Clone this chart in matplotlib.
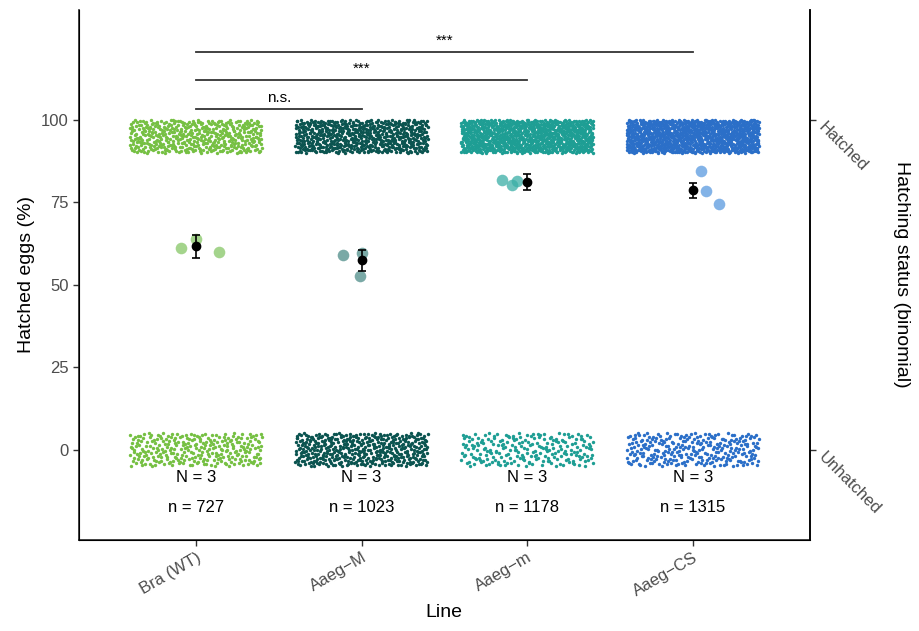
"""Egg hatching rate per line: individual eggs (binomial) plus replicate means."""

import matplotlib
matplotlib.use("Agg")
import matplotlib.pyplot as plt
import numpy as np

plt.rcParams["font.family"] = ["Liberation Sans", "DejaVu Sans"]

# --- data -------------------------------------------------------------------
LINES = ["Bra (WT)", "Aaeg\u2212M", "Aaeg\u2212m", "Aaeg\u2212CS"]
N_TOTAL = [727, 1023, 1178, 1315]
N_REPLICATES = [3, 3, 3, 3]
HATCHED_COUNT = [447, 588, 954, 1039]
UNHATCHED_COUNT = [280, 435, 224, 276]

# replicate hatching percentages and their x offset from the category
REP_PCT = [[61.2, 60.0, 63.8], [59.1, 52.7, 59.7], [81.8, 80.3, 81.5], [84.5, 78.5, 74.5]]
REP_DX = [[-0.09, 0.14, 0.0], [-0.11, -0.01, 0.0], [-0.15, -0.09, -0.06], [0.05, 0.08, 0.16]]
MEAN_PCT = [61.6, 57.5, 81.2, 78.8]
ERR_LO = [58.2, 54.3, 78.6, 76.4]
ERR_HI = [65.1, 60.6, 83.6, 81.0]

# significance brackets vs. WT: (target index, y, label)
SIG_TARGET = [1, 2, 3]
SIG_Y = [103.3, 112.1, 120.6]
SIG_LABEL = ["n.s.", "***", "***"]

COLORS = ["#76c043", "#0b5450", "#1e9e94", "#2b6fc8"]
REP_COLORS = ["#86c666", "#4e8c88", "#3aaea6", "#5a9ae0"]
GREY = "#4d4d4d"


def halton(i, base):
    """Deterministic low-discrepancy sequence used for the jitter layout."""
    f, r = 1.0, 0.0
    while i > 0:
        f /= base
        r += f * (i % base)
        i //= base
    return r


def jitter(count, start, x0, y_lo, y_hi, width=0.4):
    idx = np.arange(start, start + count)
    u = np.array([halton(int(k), 2) for k in idx])
    v = np.array([halton(int(k), 3) for k in idx])
    return x0 - width + 2 * width * u, y_lo + (y_hi - y_lo) * v


fig, ax = plt.subplots(figsize=(9.2, 6.31), dpi=100)
fig.subplots_adjust(left=0.086, right=0.88, top=0.984, bottom=0.145)

xs = np.arange(1, len(LINES) + 1)
for i, x in enumerate(xs):
    hx, hy = jitter(HATCHED_COUNT[i], 17 + 3000 * i, x, 90, 100)
    ux, uy = jitter(UNHATCHED_COUNT[i], 1500 + 3000 * i, x, -5, 5)
    ax.scatter(hx, hy, s=6, color=COLORS[i], linewidths=0, zorder=2)
    ax.scatter(ux, uy, s=6, color=COLORS[i], linewidths=0, zorder=2)

    ax.scatter(x + np.array(REP_DX[i]), REP_PCT[i], s=70, color=REP_COLORS[i],
               alpha=0.75, linewidths=0, zorder=3)
    ax.errorbar(x, MEAN_PCT[i],
                yerr=[[MEAN_PCT[i] - ERR_LO[i]], [ERR_HI[i] - MEAN_PCT[i]]],
                fmt="o", color="black", ms=6, capsize=3, elinewidth=1.2,
                capthick=1.2, zorder=4)

    ax.text(x, -8.5, f"N = {N_REPLICATES[i]}", ha="center", va="center", fontsize=12)
    ax.text(x, -17.5, f"n = {N_TOTAL[i]}", ha="center", va="center", fontsize=12)

for t, y, lab in zip(SIG_TARGET, SIG_Y, SIG_LABEL):
    ax.plot([xs[0], xs[t]], [y, y], color="#333333", lw=1.3)
    ax.text((xs[0] + xs[t]) / 2, y + 1.2, lab, ha="center", va="bottom", fontsize=11)

ax.set_xlim(0.295, 4.705)
ax.set_ylim(-27.3, 133.3)
ax.set_yticks([0, 25, 50, 75, 100])
ax.set_xticks(xs)
ax.set_xticklabels(LINES, rotation=30, ha="right", rotation_mode="anchor")
ax.tick_params(colors=GREY, labelsize=12, length=4, width=1)
ax.tick_params(axis="both", color="#333333")
ax.set_xlabel("Line", fontsize=14)
ax.set_ylabel("Hatched eggs (%)", fontsize=14)
ax.spines["top"].set_visible(False)
for side in ["left", "bottom", "right"]:
    ax.spines[side].set_linewidth(1.2)
    ax.spines[side].set_color("#222222")

ax2 = ax.twinx()
ax2.set_ylim(ax.get_ylim())
ax2.set_yticks([100, 0])
ax2.set_yticklabels(["Hatched", "Unhatched"], rotation=-45, ha="left",
                    va="top", rotation_mode="anchor")
ax2.tick_params(colors=GREY, labelsize=12, length=4, width=1, pad=8)
ax2.tick_params(axis="y", color="#333333")
ax2.set_ylabel("Hatching status (binomial)", fontsize=14, rotation=-90, labelpad=19)
ax2.spines["top"].set_visible(False)
ax2.spines["right"].set_linewidth(1.2)

fig.savefig("out.png", dpi=100)
